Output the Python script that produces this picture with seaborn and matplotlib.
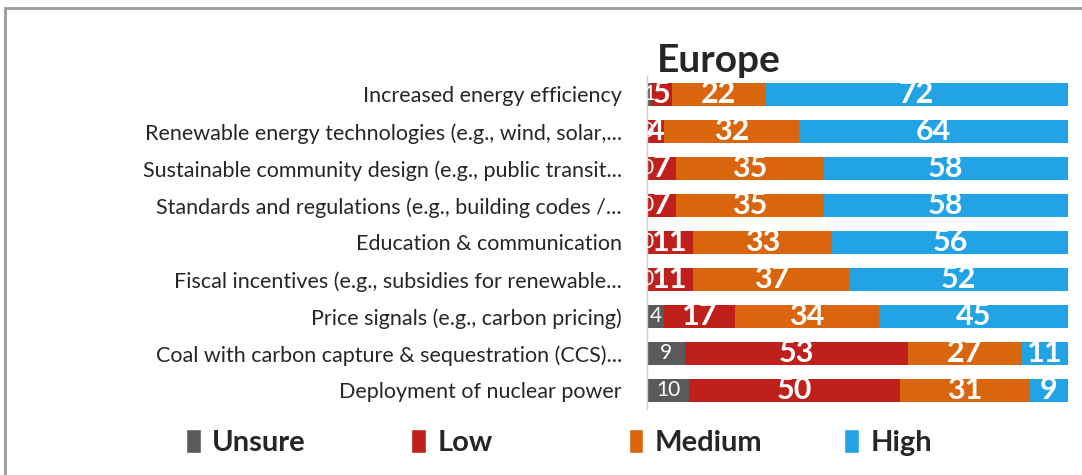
import numpy as np
import pandas as pd
import matplotlib.pyplot as plt
import seaborn as sns
from matplotlib.patches import Patch, Rectangle

categories = [
    "Increased energy efficiency",
    "Renewable energy technologies (e.g., wind, solar,...",
    "Sustainable community design (e.g., public transit...",
    "Standards and regulations (e.g., building codes /...",
    "Education & communication",
    "Fiscal incentives (e.g., subsidies for renewable...",
    "Price signals (e.g., carbon pricing)",
    "Coal with carbon capture & sequestration (CCS)...",
    "Deployment of nuclear power",
]
unsure = [1, 0, 0, 0, 0, 0, 4, 9, 10]
low = [5, 4, 7, 7, 11, 11, 17, 53, 50]
medium = [22, 32, 35, 35, 33, 37, 34, 27, 31]
high = [72, 64, 58, 58, 56, 52, 45, 11, 9]

series = ["Unsure", "Low", "Medium", "High"]
colors = {"Unsure": "#5a5a5a", "Low": "#c0201c", "Medium": "#d9650c", "High": "#22a3e6"}

df = pd.DataFrame({"category": categories, "Unsure": unsure, "Low": low,
                   "Medium": medium, "High": high})
cum = df[series].cumsum(axis=1)

sns.set_theme(style="white")
plt.rcParams['font.family'] = ['Lato', 'DejaVu Sans']

fig = plt.figure(figsize=(10.82, 4.75), dpi=100)
ax = fig.add_axes([0.598, 0.139, 0.389, 0.701])

# stacked bars: draw cumulative totals from the largest down
for s in reversed(series):
    sns.barplot(x=cum[s], y=df["category"], color=colors[s], orient="h",
                width=0.6, ax=ax, saturation=1, linewidth=0)

# value labels
for i, row in df.iterrows():
    left = 0
    for s in series:
        v = row[s]
        xc = left + v / 2
        if s == "Unsure":
            ax.text(xc, i, str(v), color="white", fontsize=15, ha="center",
                    va="center", clip_on=True)
        else:
            ax.text(xc, i, str(v), color="white", fontsize=22, fontweight="bold",
                    ha="center", va="center", clip_on=True)
        left += v

ax.set_xlim(0, 100)
ax.set_ylim(8.5, -0.5)
ax.set_xlabel("")
ax.set_ylabel("")
ax.set_xticks([])
ax.tick_params(axis="y", length=0, pad=18, labelsize=15.5)
for sp in ["top", "right", "bottom"]:
    ax.spines[sp].set_visible(False)
ax.spines["left"].set_color("#d0d0d0")
ax.spines["left"].set_linewidth(1)

fig.text(0.664, 0.872, "Europe", fontsize=28, fontweight="bold",
         ha="center", va="center")

# legend entries at evenly spaced positions
legend_x = [0.172, 0.380, 0.581, 0.780]
for s, lx in zip(series, legend_x):
    fig.legend(handles=[Patch(facecolor=colors[s], label=s)], loc="center left",
               bbox_to_anchor=(lx, 0.069), frameon=False,
               prop={"size": 21, "weight": "bold"},
               handlelength=0.5, handleheight=0.9, handletextpad=0.4,
               borderpad=0, borderaxespad=0)

fig.patches.append(Rectangle((0.005, -0.01), 1.1, 0.993, transform=fig.transFigure,
                             fill=False, edgecolor="#9a9a9a", linewidth=2))

fig.savefig("out.png", dpi=100)
